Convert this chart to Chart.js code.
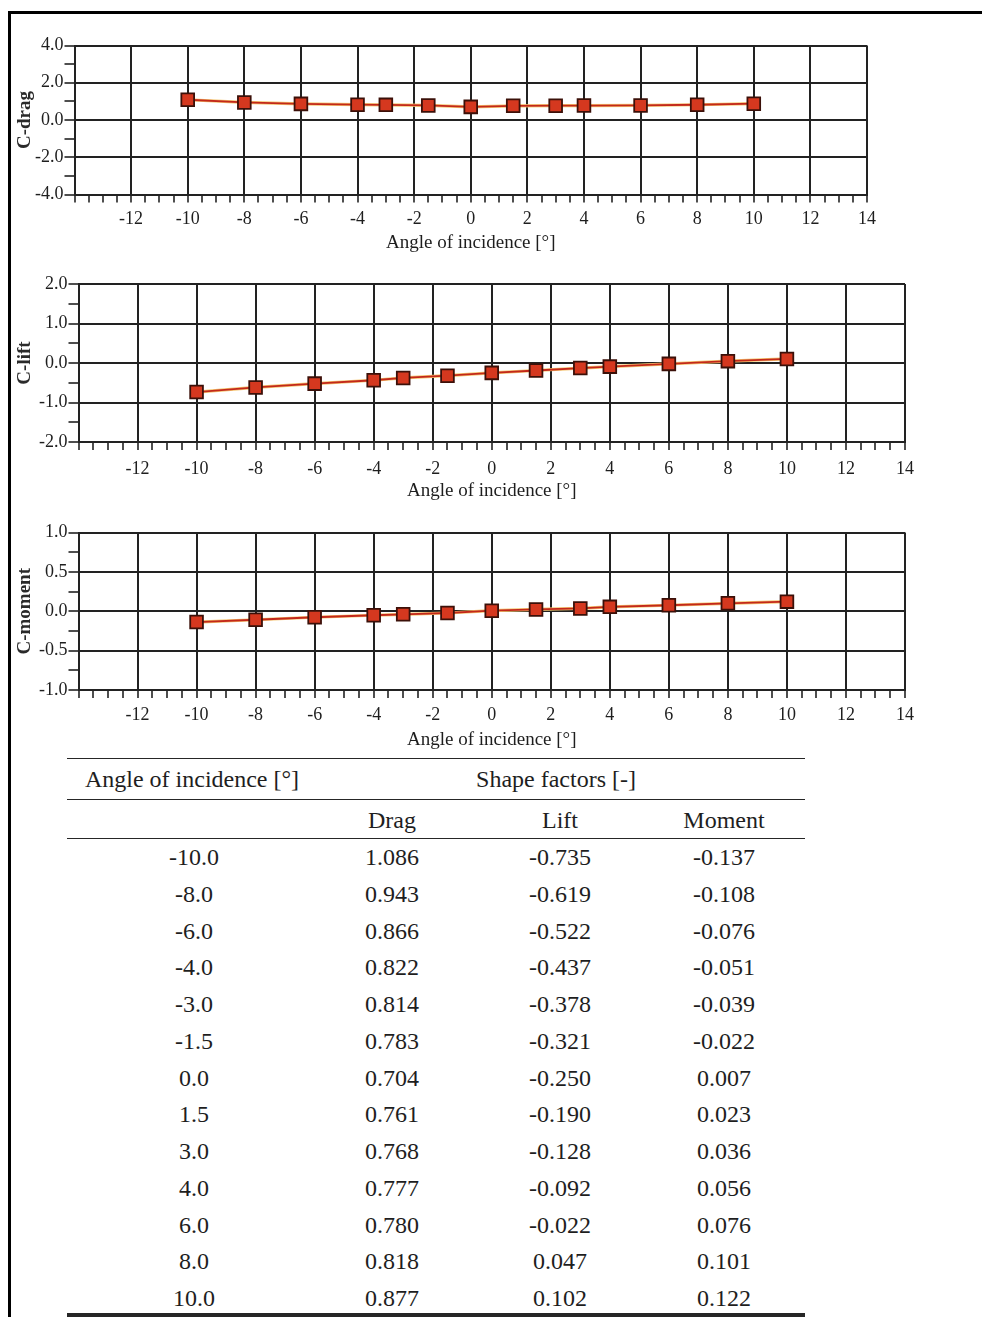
<!DOCTYPE html>
<html>
<head>
<meta charset="utf-8">
<title>Shape factors vs. angle of incidence</title>
<script src="https://cdn.jsdelivr.net/npm/chart.js@4.4.1/dist/chart.umd.min.js"></script>
<style>
  html, body { margin: 0; padding: 0; background: #fff; }
  #page {
    position: relative; width: 982px; height: 1317px; overflow: hidden;
    font-family: "Liberation Serif", "DejaVu Serif", serif; color: #1e1e1e;
  }
  .frame {
    position: absolute; left: 8px; top: 11px; right: -5px; bottom: -5px;
    border-left: 3px solid #000; border-top: 3px solid #000;
  }
  canvas { position: absolute; left: 0; }
  .cell {
    position: absolute; height: 30px; line-height: 30px; font-size: 24px;
    white-space: nowrap; transform: translateX(-50%);
  }
  .rule { position: absolute; left: 67px; width: 738px; background: #262626; }
</style>
</head>
<body>
<div id="page">
  <div class="frame"></div>
  <canvas id="dragChart" width="982" height="236"></canvas>
  <canvas id="liftChart" width="982" height="242"></canvas>
  <canvas id="momentChart" width="982" height="243"></canvas>
  <div id="table"></div>
</div>
<script>
// Measured shape factors per angle of incidence
const angles       = [-10, -8, -6, -4, -3, -1.5, 0, 1.5, 3, 4, 6, 8, 10];
const dragValues   = [1.086, 0.943, 0.866, 0.822, 0.814, 0.783, 0.704, 0.761, 0.768, 0.777, 0.780, 0.818, 0.877];
const liftValues   = [-0.735, -0.619, -0.522, -0.437, -0.378, -0.321, -0.250, -0.190, -0.128, -0.092, -0.022, 0.047, 0.102];
const momentValues = [-0.137, -0.108, -0.076, -0.051, -0.039, -0.022, 0.007, 0.023, 0.036, 0.056, 0.076, 0.101, 0.122];

// Labelled ticks on the angle axis and on each coefficient axis
const angleTickLabels  = [-12, -10, -8, -6, -4, -2, 0, 2, 4, 6, 8, 10, 12, 14];
const dragTickLabels   = [-4, -2, 0, 2, 4];
const liftTickLabels   = [-2, -1, 0, 1, 2];
const momentTickLabels = [-1, -0.5, 0, 0.5, 1];

const angleTitle = 'Angle of incidence [°]';
const tableHeaders = ['Angle of incidence [°]', 'Shape factors [-]', 'Drag', 'Lift', 'Moment'];

const FONT = '"Liberation Serif", "DejaVu Serif", serif';
const INK = '#1e1e1e';
const GRID = '#222222';

const near = (a, b) => Math.abs(a - b) < 1e-6;
const inList = (list, v) => list.some(t => near(t, v));
const fmt1 = v => { const r = Math.round(v * 1000) / 1000; return (r === 0 ? 0 : r).toFixed(1); };

function buildChart(id, values, yTitle, yRange, yLabels, box) {
  const canvas = document.getElementById(id);
  canvas.style.top = box.top + 'px';
  canvas.height = box.height;
  const pts = angles.map((a, i) => ({ x: a, y: values[i] }));

  return new Chart(canvas, {
    type: 'line',
    data: {
      datasets: [
        // soft yellow edge under the series line
        { data: pts, borderColor: '#f4c46e', borderWidth: 3.2, pointRadius: 0, tension: 0, order: 2 },
        {
          data: pts, borderColor: '#c3281b', borderWidth: 1.8, tension: 0, order: 1,
          pointStyle: 'rect', pointRadius: 9, pointHoverRadius: 9,
          pointBackgroundColor: '#d5381f', pointBorderColor: '#3b1009', pointBorderWidth: 1.8
        }
      ]
    },
    options: {
      responsive: false, animation: false, events: [],
      layout: { padding: { left: 0, right: 982 - box.right, top: box.plotTop - box.top, bottom: 0 } },
      plugins: { legend: { display: false }, tooltip: { enabled: false } },
      scales: {
        x: {
          type: 'linear', position: 'bottom', min: -14, max: 14,
          afterFit: s => { s.height = box.top + box.height - box.plotBottom; },
          ticks: {
            stepSize: 0.5, autoSkip: false, maxRotation: 0, minRotation: 0, padding: box.tickPad,
            color: INK, font: { family: FONT, size: 18 },
            callback: v => inList(angleTickLabels, v) ? String(Math.round(v)) : ''
          },
          grid: {
            color: c => (c.tick && inList(angleTickLabels.concat([-14]), c.tick.value)) ? GRID : 'rgba(0,0,0,0)',
            lineWidth: 2, tickColor: GRID, tickLength: 8, tickWidth: 1.6
          },
          border: { color: GRID, width: 2 },
          title: { display: true, text: angleTitle, color: INK, font: { family: FONT, size: 19 }, padding: { top: 0, bottom: 2 } }
        },
        y: {
          type: 'linear', min: yRange.min, max: yRange.max,
          afterFit: s => { s.width = box.plotLeft; },
          ticks: {
            stepSize: yRange.step, autoSkip: false, padding: 1,
            color: INK, font: { family: FONT, size: 18 },
            callback: v => inList(yLabels, v) ? fmt1(v) : ''
          },
          grid: {
            color: c => (c.tick && inList(yLabels, c.tick.value)) ? GRID : 'rgba(0,0,0,0)',
            lineWidth: 2, tickColor: GRID, tickLength: 10, tickWidth: 1.6
          },
          border: { color: GRID, width: 2 },
          title: { display: true, text: yTitle, color: '#2a2a2a', font: { family: FONT, size: 19, weight: 'bold' }, padding: { top: 14, bottom: 0 } }
        }
      }
    }
  });
}

buildChart('dragChart', dragValues, 'C-drag', { min: -4, max: 4, step: 1 }, dragTickLabels,
  { top: 20, height: 236, plotLeft: 74.5, right: 867, plotTop: 45.5, plotBottom: 194.5, tickPad: 6 });
buildChart('liftChart', liftValues, 'C-lift', { min: -2, max: 2, step: 0.5 }, liftTickLabels,
  { top: 262, height: 242, plotLeft: 78.5, right: 905, plotTop: 284, plotBottom: 442, tickPad: 8 });
buildChart('momentChart', momentValues, 'C-moment', { min: -1, max: 1, step: 0.25 }, momentTickLabels,
  { top: 510, height: 243, plotLeft: 78.5, right: 905, plotTop: 532.5, plotBottom: 690, tickPad: 6 });

// Table of the same values
(function buildTable() {
  const host = document.getElementById('table');
  const colX = [194, 392, 560, 724];
  const addCell = (text, x, yCenter) => {
    const d = document.createElement('div');
    d.className = 'cell';
    d.textContent = text;
    d.style.left = x + 'px';
    d.style.top = (yCenter - 15) + 'px';
    host.appendChild(d);
  };
  const addRule = (y, h) => {
    const r = document.createElement('div');
    r.className = 'rule';
    r.style.top = y + 'px';
    r.style.height = h + 'px';
    host.appendChild(r);
  };
  addRule(757.5, 1.6);
  addRule(798.5, 1.8);
  addRule(837.5, 1.8);
  addRule(1313, 3.5);

  addCell(tableHeaders[0], 192, 779);
  addCell(tableHeaders[1], 556, 779);
  addCell(tableHeaders[2], colX[1], 820);
  addCell(tableHeaders[3], colX[2], 820);
  addCell(tableHeaders[4], colX[3], 820);

  angles.forEach((a, i) => {
    const y = 857 + i * 36.75;
    addCell(a.toFixed(1), colX[0], y);
    addCell(dragValues[i].toFixed(3), colX[1], y);
    addCell(liftValues[i].toFixed(3), colX[2], y);
    addCell(momentValues[i].toFixed(3), colX[3], y);
  });
})();
</script>
</body>
</html>
